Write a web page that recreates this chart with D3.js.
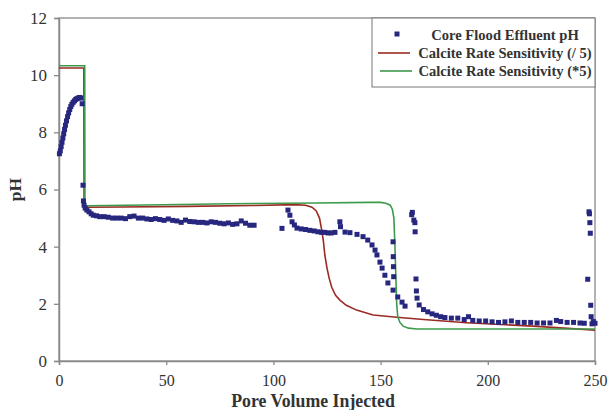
<!DOCTYPE html>
<html>
<head>
<meta charset="utf-8">
<script src="https://cdn.jsdelivr.net/npm/d3@7"></script>
<style>
  html, body { margin: 0; padding: 0; background: #fff; }
  svg { display: block; }
  text { font-family: "Times New Roman", "Liberation Serif", serif; fill: #333; }
</style>
</head>
<body>
<div id="chart"></div>
<script>
// ---- data ----
const xTicks = [0, 50, 100, 150, 200, 250];
const yTicks = [0, 2, 4, 6, 8, 10, 12];

const effluentX = [0.2,0.6,1.0,1.4,1.8,2.2,2.6,3.0,3.5,4.0,4.5,5.0,5.5,6.0,6.6,7.2,7.8,8.4,9.0,9.6,10.2,10.8,
  11.2,11.4,11.7,12.2,13,14,15,16,17.5,19,21,23,25,27,29,31,33,35,37,39,41,43,45,47,49,51,53,55,57,59,61,63,65,67,69,71,73,75,77,79,81,83,85,87,89,91,
  104,106.8,107.7,108.7,109.8,111,113,115,117,119,120.8,122.5,124,125.5,127,128.7,131,131.3,133.4,135.7,139,141.8,144,146,147.4,148.3,149.7,150.7,152,153.4,155.8,155.8,155.9,156,156.1,158,160,161.4,
  164.5,164.8,165.5,166,166.1,166.5,166.7,167,168,170,172,174,176,178,180,183,186,189,191,193,196,199,202,205,208,211,214,217,220,223,226,229,232,234,237,240,243,245,
  246.6,247.2,247.4,247.6,247.8,248.0,248.2,248.6,249.2,250];
const effluentY = [7.25,7.35,7.5,7.65,7.8,7.95,8.1,8.25,8.4,8.55,8.68,8.8,8.9,8.98,9.05,9.1,9.15,9.18,9.2,9.22,9.2,9.0,
  6.15,5.6,5.45,5.35,5.28,5.22,5.15,5.1,5.08,5.05,5.05,5.03,5.0,5.0,5.0,4.98,5.05,5.07,5.0,5.0,4.97,4.95,4.98,4.95,4.92,4.97,4.92,4.9,4.85,4.93,4.88,4.87,4.85,4.85,4.83,4.87,4.85,4.82,4.8,4.83,4.78,4.8,4.9,4.82,4.75,4.75,
  4.64,5.28,5.1,4.87,4.76,4.65,4.62,4.6,4.57,4.55,4.52,4.5,4.5,4.48,4.48,4.5,4.87,4.7,4.51,4.49,4.43,4.35,4.23,4.06,3.88,3.71,3.46,3.25,3.0,2.73,2.48,4.17,3.65,3.3,2.95,2.24,2.06,1.92,
  5.12,5.2,4.93,4.84,4.52,2.87,2.45,2.2,1.96,1.8,1.72,1.65,1.6,1.55,1.52,1.5,1.5,1.45,1.55,1.42,1.4,1.4,1.37,1.35,1.37,1.4,1.35,1.35,1.35,1.33,1.33,1.33,1.42,1.38,1.35,1.35,1.33,1.32,
  2.86,5.22,5.15,4.84,4.47,1.95,1.55,1.3,1.38,1.32];

const slowX = [0,11.6,11.7,12.5,30,60,90,110,115,118,120,121.5,122.5,123.3,124,125,126,127.2,129,131,134,138.8,146.5,157.5,170,190,221,250];
const slowY = [10.25,10.25,5.38,5.38,5.39,5.41,5.44,5.47,5.45,5.38,5.25,5.0,4.6,4.2,3.7,3.25,2.9,2.58,2.3,2.13,1.95,1.78,1.61,1.53,1.45,1.34,1.22,1.08];

const fastX = [0,12.0,12.1,13,40,80,120,145,150,152.5,154.5,155.5,156.2,156.7,157.1,157.5,158,159,160.5,163,167,180,210,250];
const fastY = [10.33,10.33,5.43,5.43,5.46,5.5,5.53,5.55,5.55,5.52,5.45,5.3,5.0,4.0,3.0,2.0,1.55,1.35,1.22,1.15,1.12,1.12,1.12,1.12];

const legendLabels = ["Core Flood Effluent pH", "Calcite Rate Sensitivity (/ 5)", "Calcite Rate Sensitivity (*5)"];
const xTitle = "Pore Volume Injected";
const yTitle = "pH";

// ---- layout ----
const W = 609, H = 410;
const m = {left: 59, top: 18, right: 14, bottom: 49};
const iw = W - m.left - m.right, ih = H - m.top - m.bottom;
const colors = {pts: "#27277f", slow: "#9a2a22", fast: "#3d9a4c", axis: "#8a8a8a"};

const svg = d3.select("#chart").append("svg").attr("width", W).attr("height", H);
const g = svg.append("g").attr("transform", `translate(${m.left},${m.top})`);

const x = d3.scaleLinear().domain([0, 250]).range([0, iw]);
const y = d3.scaleLinear().domain([0, 12]).range([ih, 0]);

// frame
g.append("rect").attr("x", 0).attr("y", 0).attr("width", iw).attr("height", ih)
  .attr("fill", "none").attr("stroke", "#666").attr("stroke-width", 1);

// axes
const xAxis = g.append("g").attr("transform", `translate(0,${ih})`)
  .call(d3.axisBottom(x).tickValues(xTicks).tickSize(4).tickPadding(10));
const yAxis = g.append("g")
  .call(d3.axisLeft(y).tickValues(yTicks).tickSize(5).tickPadding(7));
[xAxis, yAxis].forEach(a => {
  a.select(".domain").attr("stroke", colors.axis).attr("stroke-width", 1.5);
  a.selectAll(".tick line").attr("stroke", colors.axis).attr("stroke-width", 1.3);
  a.selectAll(".tick text").attr("fill", "#333")
    .attr("font-family", "'Times New Roman', 'Liberation Serif', serif");
});
xAxis.selectAll(".tick text").attr("font-size", 16);
yAxis.selectAll(".tick text").attr("font-size", 17);

// lines
const line = d3.line().x(d => x(d[0])).y(d => y(d[1]));
g.append("path").datum(slowX.map((v, i) => [v, slowY[i]]))
  .attr("d", line).attr("fill", "none").attr("stroke", colors.slow).attr("stroke-width", 1.6);
g.append("path").datum(fastX.map((v, i) => [v, fastY[i]]))
  .attr("d", line).attr("fill", "none").attr("stroke", colors.fast).attr("stroke-width", 1.6);

// points
const s = 5;
g.append("g").selectAll("rect").data(effluentX.map((v, i) => [v, effluentY[i]]))
  .join("rect")
  .attr("x", d => x(d[0]) - s / 2).attr("y", d => y(d[1]) - s / 2)
  .attr("width", s).attr("height", s).attr("fill", colors.pts);

// titles
svg.append("text").attr("x", 313).attr("y", 406.5).attr("text-anchor", "middle")
  .attr("font-size", 17.8).attr("font-weight", "bold").text(xTitle);
svg.append("text").attr("transform", `translate(21,${m.top + ih / 2}) rotate(-90)`)
  .attr("text-anchor", "middle").attr("font-size", 17.5).attr("font-weight", "bold").text(yTitle);

// legend
const lg = svg.append("g");
lg.append("rect").attr("x", 372).attr("y", 18).attr("width", 223).attr("height", 69)
  .attr("fill", "#fff").attr("stroke", "#777").attr("stroke-width", 1);
const rows = [40, 58, 76];
lg.append("rect").attr("x", 397 - 2.5).attr("y", 34 - 2.5).attr("width", 5).attr("height", 5).attr("fill", colors.pts);
lg.append("line").attr("x1", 378).attr("x2", 410).attr("y1", 53).attr("y2", 53).attr("stroke", colors.slow).attr("stroke-width", 1.6);
lg.append("line").attr("x1", 380).attr("x2", 412).attr("y1", 71).attr("y2", 71).attr("stroke", colors.fast).attr("stroke-width", 1.6);
legendLabels.forEach((t, i) => {
  lg.append("text").attr("x", 505).attr("y", rows[i]).attr("text-anchor", "middle")
    .attr("font-size", 14.6).attr("font-weight", "bold").attr("fill", "#222").text(t);
});
</script>
</body>
</html>
